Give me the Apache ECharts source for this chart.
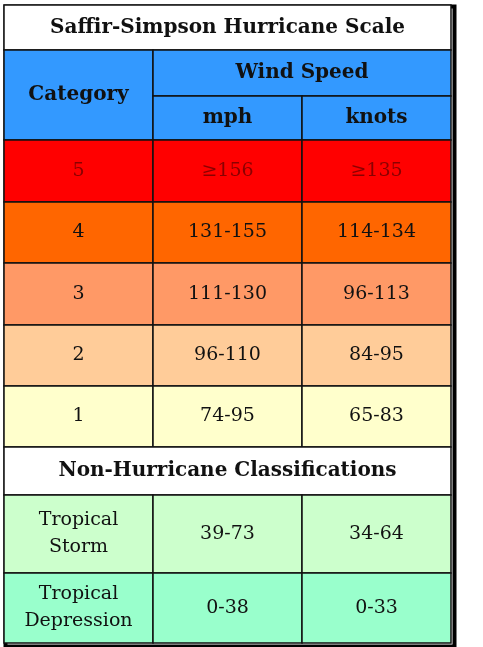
<!DOCTYPE html>
<html>
<head>
<meta charset="utf-8">
<script src="https://cdn.jsdelivr.net/npm/echarts@6/dist/echarts.min.js"></script>
<style>html,body{margin:0;background:#fff}#main{width:483px;height:647px}</style>
</head>
<body>
<div id="main"></div>
<script>
// table data
var title = 'Saffir-Simpson Hurricane Scale';
var subTitle = 'Non-Hurricane Classifications';
var categories = ['5', '4', '3', '2', '1'];
var mph = ['≥156', '131-155', '111-130', '96-110', '74-95'];
var knots = ['≥135', '114-134', '96-113', '84-95', '65-83'];
var rowColors = ['#ff0000', '#ff6600', '#ff9966', '#ffcc99', '#ffffcc'];
var nonNames = ['Tropical\nStorm', 'Tropical\nDepression'];
var nonMph = ['39-73', '0-38'];
var nonKnots = ['34-64', '0-33'];
var nonColors = ['#ccffcc', '#99ffcc'];

// layout: row boundaries (pixels inside the table)
var rowEdges = [0, 45, 91, 135, 197, 258, 320, 381, 442, 490, 568, 638];
var blue = '#3399ff';
var cells = [];
function cell(c0, c1, r0, r1, color, text, opt) {
  cells.push({ value: [c0, c1, rowEdges[r0], rowEdges[r1]], color: color, text: text, opt: opt || {} });
}
var headFont = { fontWeight: 'bold', fontSize: 20 };
cell(0, 3, 0, 1, '#ffffff', title, headFont);
cell(0, 1, 1, 3, blue, 'Category', headFont);
cell(1, 3, 1, 2, blue, 'Wind Speed', headFont);
cell(1, 2, 2, 3, blue, 'mph', headFont);
cell(2, 3, 2, 3, blue, 'knots', headFont);
categories.forEach(function (c, i) {
  var o = i === 0 ? { color: '#8b0000' } : {};
  cell(0, 1, 3 + i, 4 + i, rowColors[i], c, o);
  cell(1, 2, 3 + i, 4 + i, rowColors[i], mph[i], o);
  cell(2, 3, 3 + i, 4 + i, rowColors[i], knots[i], o);
});
cell(0, 3, 8, 9, '#ffffff', subTitle, headFont);
nonNames.forEach(function (n, i) {
  cell(0, 1, 9 + i, 10 + i, nonColors[i], n);
  cell(1, 2, 9 + i, 10 + i, nonColors[i], nonMph[i]);
  cell(2, 3, 9 + i, 10 + i, nonColors[i], nonKnots[i]);
});

var chart = echarts.init(document.getElementById('main'));
chart.setOption({
  animation: false,
  grid: { left: 4, top: 5, width: 447, height: 638 },
  xAxis: { type: 'value', min: 0, max: 3, show: false },
  yAxis: { type: 'value', min: 0, max: 638, inverse: true, show: false },
  series: [{
    type: 'custom',
    data: cells.map(function (c) { return c.value; }),
    renderItem: function (params, api) {
      var c = cells[params.dataIndex];
      var p0 = api.coord([api.value(0), api.value(2)]);
      var p1 = api.coord([api.value(1), api.value(3)]);
      var o = c.opt;
      return {
        type: 'group',
        children: [{
          type: 'rect',
          shape: { x: p0[0], y: p0[1], width: p1[0] - p0[0], height: p1[1] - p0[1] },
          style: { fill: c.color, stroke: '#111', lineWidth: 1.5 }
        }, {
          type: 'text',
          style: {
            x: (p0[0] + p1[0]) / 2, y: (p0[1] + p1[1]) / 2,
            text: c.text, align: 'center', verticalAlign: 'middle',
            fontFamily: '"DejaVu Serif", serif',
            fontSize: o.fontSize || 19, fontWeight: o.fontWeight || 'normal',
            fill: o.color || '#111', lineHeight: 27
          }
        }]
      };
    }
  }],
  graphic: [{
    type: 'rect', left: 3, top: 4,
    shape: { width: 449, height: 640 },
    style: { fill: 'none', stroke: '#000', lineWidth: 4 }
  }]
});
</script>
</body>
</html>
